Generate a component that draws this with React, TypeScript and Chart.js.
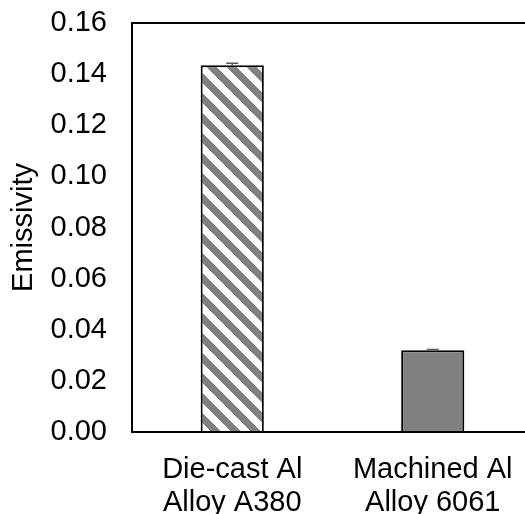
import React, { useEffect, useRef } from 'react';
import { Chart, registerables } from 'chart.js';

Chart.register(...registerables);

// Measured emissivity of the two aluminium samples
const categories: string[][] = [
  ['Die-cast Al', 'Alloy A380'],
  ['Machined Al', 'Alloy 6061'],
];
const emissivity: number[] = [0.1435, 0.032];
const emissivityError: number[] = [0.0008, 0.0003];

const yMin = 0;
const yMax = 0.16;
const yStep = 0.02;

const FONT = '"Liberation Sans", Arial, Helvetica, sans-serif';
const STRIPE_GREY = '#808080';

// White tile with grey downward diagonal stripes
function makeHatch(): CanvasPattern | string {
  const size = 20;
  const tile = document.createElement('canvas');
  tile.width = size;
  tile.height = size;
  const ctx = tile.getContext('2d');
  if (!ctx) return STRIPE_GREY;
  const img = ctx.createImageData(size, size);
  for (let y = 0; y < size; y++) {
    for (let x = 0; x < size; x++) {
      const k = (((x - y) % size) + size) % size;
      const v = k < size / 2 ? 128 : 255;
      const i = (y * size + x) * 4;
      img.data[i] = v;
      img.data[i + 1] = v;
      img.data[i + 2] = v;
      img.data[i + 3] = 255;
    }
  }
  ctx.putImageData(img, 0, 0);
  return ctx.createPattern(tile, 'repeat') || STRIPE_GREY;
}

// Upper error bars drawn from the error array
const errorBars = {
  id: 'errorBars',
  afterDatasetsDraw(chart: any) {
    const { ctx } = chart;
    const yScale = chart.scales.y;
    const meta = chart.getDatasetMeta(0);
    ctx.save();
    ctx.strokeStyle = '#595959';
    ctx.lineWidth = 1.5;
    meta.data.forEach((bar: any, i: number) => {
      const x = bar.x;
      const yVal = yScale.getPixelForValue(emissivity[i]);
      const yTop = yScale.getPixelForValue(emissivity[i] + emissivityError[i]);
      ctx.beginPath();
      ctx.moveTo(x, yVal);
      ctx.lineTo(x, yTop);
      ctx.moveTo(x - 6, yTop);
      ctx.lineTo(x + 6, yTop);
      ctx.stroke();
    });
    ctx.restore();
  },
};

// Black box around the plot area
const frame = {
  id: 'frame',
  afterDatasetsDraw(chart: any) {
    const { ctx, chartArea: a } = chart;
    ctx.save();
    ctx.strokeStyle = '#000';
    ctx.lineWidth = 2;
    ctx.strokeRect(a.left, a.top, a.right - a.left, a.bottom - a.top);
    ctx.restore();
  },
};

export default function App() {
  const canvasRef = useRef<HTMLCanvasElement | null>(null);

  useEffect(() => {
    document.body.style.margin = '0';
    document.documentElement.style.overflow = 'hidden';
    const canvas = canvasRef.current;
    if (!canvas) return;
    const hatch = makeHatch();

    const chart = new Chart(canvas, {
      type: 'bar',
      data: {
        labels: categories,
        datasets: [
          {
            data: emissivity,
            backgroundColor: [hatch, STRIPE_GREY],
            borderColor: '#000',
            borderWidth: 2,
            categoryPercentage: 1,
            barPercentage: 0.315,
          },
        ],
      },
      options: {
        animation: false,
        responsive: false,
        devicePixelRatio: 1,
        layout: { padding: { left: 0, top: 23, right: 12, bottom: 0 } },
        plugins: {
          legend: { display: false },
          tooltip: { enabled: false },
        },
        scales: {
          x: {
            grid: { display: false },
            border: { display: false },
            ticks: {
              color: '#000',
              font: { family: FONT, size: 29, lineHeight: 1.15 },
              padding: 13,
              maxRotation: 0,
              autoSkip: false,
            },
            afterFit: (s: any) => {
              s.height = 82;
            },
          },
          y: {
            min: yMin,
            max: yMax,
            grid: {
              display: true,
              drawOnChartArea: false,
              drawTicks: true,
              tickLength: 25,
              tickColor: 'rgba(0,0,0,0)',
              color: 'rgba(0,0,0,0)',
            },
            border: { display: false },
            ticks: {
              stepSize: yStep,
              color: '#000',
              font: { family: FONT, size: 29 },
              padding: 0,
              callback: (v: any) => Number(v).toFixed(2),
            },
            title: {
              display: true,
              text: 'Emissivity',
              color: '#000',
              font: { family: FONT, size: 29, lineHeight: 1.2 },
              padding: { top: 7, bottom: 0 },
            },
            afterFit: (s: any) => {
              s.width = 132;
            },
          },
        },
      },
      plugins: [errorBars, frame],
    });

    return () => chart.destroy();
  }, []);

  return (
    <div style={{ width: 525, height: 514, overflow: 'hidden', position: 'relative' }}>
      <canvas
        ref={canvasRef}
        width={545}
        height={514}
        style={{ width: 545, height: 514, display: 'block' }}
      />
    </div>
  );
}
